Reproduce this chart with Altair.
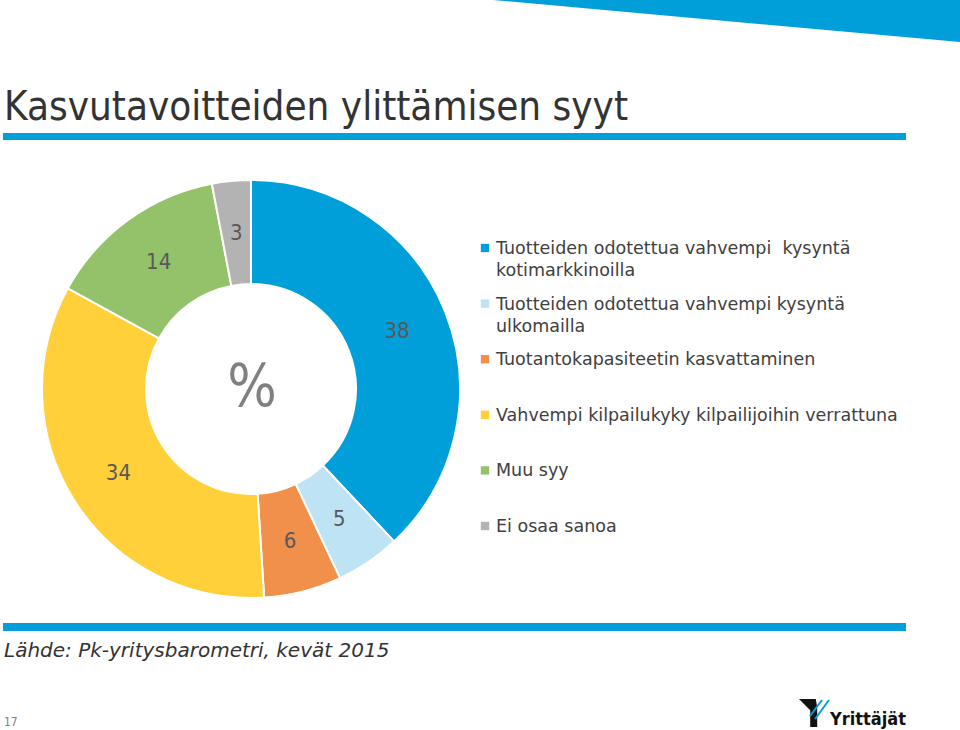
import altair as alt
import pandas as pd

# ---- data ----
categories = [
    "Tuotteiden odotettua vahvempi  kysyntä kotimarkkinoilla",
    "Tuotteiden odotettua vahvempi kysyntä ulkomailla",
    "Tuotantokapasiteetin kasvattaminen",
    "Vahvempi kilpailukyky kilpailijoihin verrattuna",
    "Muu syy",
    "Ei osaa sanoa",
]
legend_lines = [
    "Tuotteiden odotettua vahvempi\u00a0 kysyntä\nkotimarkkinoilla",
    "Tuotteiden odotettua vahvempi kysyntä\nulkomailla",
    "Tuotantokapasiteetin kasvattaminen",
    "Vahvempi kilpailukyky kilpailijoihin verrattuna",
    "Muu syy",
    "Ei osaa sanoa",
]
values = [38, 5, 6, 34, 14, 3]
colors = ["#009FDA", "#BDE3F5", "#F0904A", "#FFD03A", "#93C26A", "#B3B3B3"]

title_text = "Kasvutavoitteiden ylittämisen syyt"
source_text = "Lähde: Pk-yritysbarometri, kevät 2015"
page_number = "17"
logo_text = "Yrittäjät"

df = pd.DataFrame({
    "cat": categories,
    "label": legend_lines,
    "value": values,
    "order": list(range(len(categories))),
})

W, H = 960, 730
BLUE = "#009FDA"
FONT = "DejaVu Sans"
COND = "DejaVu Sans Condensed, Liberation Sans Narrow, DejaVu Sans"

color = alt.Color("cat:N", scale=alt.Scale(domain=categories, range=colors), legend=None)
CX, CY = 251, 389

base = alt.Chart(df)

arcs = base.mark_arc(outerRadius=209, innerRadius=105, stroke="white", strokeWidth=2).encode(
    theta=alt.Theta("value:Q", stack=True),
    order=alt.Order("order:Q"),
    color=color,
    x=alt.value(CX), y=alt.value(CY),
)

arc_labels = base.mark_text(radius=157, fontSize=22, font=COND, color="#595959").encode(
    theta=alt.Theta("value:Q", stack=True),
    order=alt.Order("order:Q"),
    text=alt.Text("value:Q"),
    x=alt.value(CX), y=alt.value(CY),
)

pct = alt.Chart(pd.DataFrame({"t": ["%"]})).mark_text(
    fontSize=58, font=COND, color="#808080", baseline="middle", align="center"
).encode(text="t:N", x=alt.value(CX + 1), y=alt.value(CY))

# legend
row_y = alt.Y("order:Q", scale=alt.Scale(domain=[0, 5], range=[248, 526]), axis=None)
leg_sq = base.mark_square(size=70, opacity=1).encode(
    x=alt.value(485), y=row_y, color=color,
)
leg_txt = base.mark_text(
    align="left", baseline="alphabetic", dy=6, fontSize=17.5, font=FONT,
    color="#404040", lineBreak="\n", lineHeight=22,
).encode(x=alt.value(496), y=row_y, text="label:N")

# slide decorations
one = pd.DataFrame({"t": [title_text]})
title = alt.Chart(one).mark_text(
    align="left", baseline="alphabetic", fontSize=40, font=COND, color="#333333"
).encode(text="t:N", x=alt.value(4), y=alt.value(120))

top_bar = alt.Chart(one).mark_rect(color=BLUE).encode(
    x=alt.value(3), x2=alt.value(906), y=alt.value(133), y2=alt.value(140))
bottom_bar = alt.Chart(one).mark_rect(color=BLUE).encode(
    x=alt.value(3), x2=alt.value(906), y=alt.value(623), y2=alt.value(631))

stripe = alt.Chart(one).mark_point(
    shape="M-1,-1 L1,-1 L1,-0.82 Z", filled=True, color=BLUE, opacity=1, strokeWidth=0,
    size=467 * 467,
).encode(x=alt.value(726.5), y=alt.value(233.5))

src = alt.Chart(pd.DataFrame({"t": [source_text]})).mark_text(
    align="left", baseline="alphabetic", fontSize=20, font=FONT, fontStyle="italic",
    color="#333333"
).encode(text="t:N", x=alt.value(4), y=alt.value(657))

page = alt.Chart(pd.DataFrame({"t": [page_number]})).mark_text(
    align="left", baseline="alphabetic", fontSize=12, font=COND, color="#808080"
).encode(text="t:N", x=alt.value(4), y=alt.value(726))

logo_word = alt.Chart(pd.DataFrame({"t": [logo_text]})).mark_text(
    align="left", baseline="alphabetic", fontSize=18, font=COND, fontWeight="bold",
    color="#111111"
).encode(text="t:N", x=alt.value(830), y=alt.value(725))

logo_icon = alt.Chart(one).mark_point(
    shape="M-1,-1 L0.2,-1 L0.3,-0.4 L0.3,1 L-0.2,1 L-0.2,-0.2 Z", filled=True,
    color="#111111", opacity=1, strokeWidth=0, size=28 * 28,
).encode(x=alt.value(813), y=alt.value(713))
logo_l1 = alt.Chart(one).mark_rule(color=BLUE, strokeWidth=2).encode(
    x=alt.value(810), x2=alt.value(822), y=alt.value(716), y2=alt.value(700))
logo_l2 = alt.Chart(one).mark_rule(color=BLUE, strokeWidth=2).encode(
    x=alt.value(815), x2=alt.value(829), y=alt.value(719), y2=alt.value(700))

chart = alt.layer(
    stripe, top_bar, bottom_bar, title, arcs, arc_labels, pct, leg_sq, leg_txt,
    src, page, logo_icon, logo_l1, logo_l2, logo_word,
).properties(
    width=W, height=H, padding=0, autosize=alt.AutoSizeParams(type="none"),
    background="white",
).configure_view(stroke=None)

chart.save("out.html", embed_options={"renderer": "svg", "actions": False})
